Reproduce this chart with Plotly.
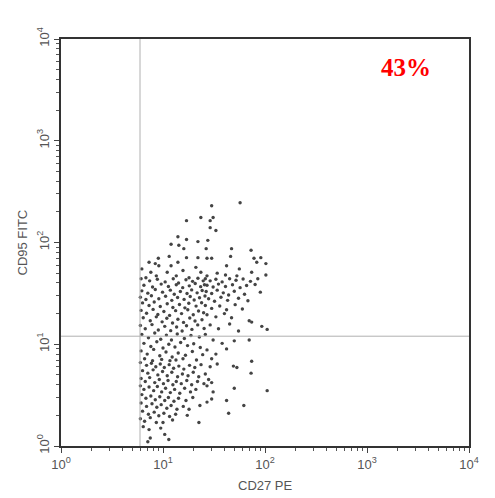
import plotly.graph_objects as go

# ---- data (CD27 PE, CD95 FITC), grouped by region ----
upper_tail = [(57,246),(30,230),(23.5,176),(31,176),(17,164),(29,164),(29,140),(33,131),
              (14,114),(27.5,105),(17,107),(22,102),(12,96),(14.3,94),(16,87),(26.5,87),
              (47,87),(73,84),(46,73),(11.5,73),(17,71),(22,71),(9,70),(27,70),(30,70),
              (78,70),(91,71),(7.3,64),(14,64),(83,64),(8.4,62),(102,62),(9.1,59),(12,59),
              (42,59),(6.2,55),(21,57),(56,55),(7.6,51),(11,51),(15.7,53),(23.5,51),(34,50),
              (74,51),(41,48),(102,48),(8.6,47),(13.5,47),(27,47),(53,47),(18,45),(6.8,45)]

core_upper_left = [(6.1,44),(7.4,42),(8.8,43.5),(10.5,41),(12.6,44),(14.2,40),(16.8,43),(19.5,41.5),(22,44.5),(24.8,42),
                   (6.5,38),(7.9,36.5),(9.6,39),(11.3,37),(13.5,38.5),(15.6,36),(18.1,37.5),(20.7,39.5),(23.4,36.8),(25.5,38.5),
                   (6.2,33.5),(7.1,31.8),(8.4,34.5),(9.9,32.5),(11.8,34),(12.9,31),(14.8,33),(17.2,31.5),(19.1,34.2),(21.6,32),(24.2,33.8),
                   (6.0,29),(6.8,27.5),(7.7,30),(9.1,28),(10.6,29.6),(12.2,27),(13.9,28.8),(16.1,27.6),(18.5,29.5),(20.2,27.2),(22.8,28.6),(25.8,29.8),
                   (6.3,25.5),(7.3,24),(8.2,26),(9.4,23.5),(11,25),(12.5,23),(14.5,24.6),(16.4,22.8),(17.9,25.3),(21.1,23.7),(23.9,25.6),
                   (6.1,21.5),(6.9,20.2),(8,22),(8.9,19.6),(10.2,21),(11.6,19.2),(13.3,21.4),(15.2,20),(17.5,21.8),(19.8,19.5),(22.3,21.2),(25,20.4),
                   (6.4,18.2),(7.5,17),(8.6,18.6),(9.8,16.6),(10.9,18),(12.4,16.2),(14,17.6),(15.9,16.4),(18.3,18.1),(20.6,16.9),(24.1,17.4),
                   (6.0,15.3),(6.7,14.2),(7.8,15.6),(9,13.8),(10.4,15),(11.9,13.6),(13.6,14.8),(15.4,13.5),(17,15.2),(19.2,14),(21.9,15.5),(25.3,14.3),
                   (6.2,12.5),(7.2,11.6),(8.3,12.9),(9.5,11.2),(10.8,12.3),(12.1,11),(13.8,12.6),(16.2,11.4),(18.8,12.2),(22.7,11.8),
                   (6.5,10.2),(7.6,9.5),(8.7,10.6),(10,9.2),(11.4,10),(13.1,9.4),(14.9,10.4),(17.4,9.7),(20,10.1),(23.2,9.3),
                   (6.1,8.6),(7,8),(8.1,8.9),(9.3,7.7),(10.7,8.4),(12.3,7.5),(14.1,8.2),(16.6,7.8),(19.4,8.5),(24.5,7.9),
                   (6.6,7.2),(7.9,6.9),(9.7,7.1),(11.7,6.9),(13.4,7.0),(15.7,7.2),(21.3,7.0)]

core_upper_right = [(26,44),(29,42),(33,43.5),(38,41),(45,44),(52,42.5),(61,43.8),(72,41.5),(85,44),
                    (27,38),(31,36.5),(35,39),(41,37),(48,38.5),(57,36),(66,37.8),(80,38.6),
                    (26.5,33),(30,31.5),(34,34),(39,32),(44,30.5),(50,33.2),(63,31),(90,32.5),
                    (28,28),(32,26.5),(37,29),(43,27),(55,28.3),(68,26.8),
                    (26,24),(30,22.5),(36,23.8),(42,21.8),(51,24.5),(60,22.2),
                    (27,19.5),(33,18.6),(40,20),(47,18.2),(70,17),(74,16.5),(93,15),(105,14),
                    (29,15.5),(35,14.2),(45,15.8),(55,13.5),(70,11),
                    (26,12.5),(31,11),(38,10.2),(50,10.8),(27,8.8),(33,8),(42,9),(30,7.2)]

core_lower_left = [(6.0,6.6),(6.9,6.2),(7.7,6.5),(8.5,6.0),(9.4,6.4),(10.3,5.9),(11.5,6.3),(12.7,5.8),(14.3,6.1),(16,5.7),(18.2,6.2),(20.5,5.9),(23.6,6.3),
                   (6.3,5.5),(7.1,5.2),(8,5.6),(8.9,5.0),(9.9,5.4),(11,4.9),(12.2,5.3),(13.9,4.8),(15.5,5.1),(17.6,4.9),(19.8,5.3),(22.4,4.8),
                   (6.1,4.6),(6.7,4.3),(7.4,4.7),(8.3,4.2),(9.2,4.5),(10.1,4.1),(11.2,4.4),(12.5,4.0),(13.5,4.3),(15.1,4.1),(17.1,4.4),(19.1,4.0),(21.8,4.3),(25.2,4.1),
                   (6.0,3.9),(6.5,3.6),(7.3,3.8),(8.1,3.5),(8.8,3.85),(9.7,3.4),(10.6,3.7),(11.8,3.35),(13,3.6),(14.6,3.3),(16.3,3.7),(18.6,3.4),(21,3.6),
                   (6.2,3.2),(6.8,2.95),(7.6,3.1),(8.4,2.85),(9.3,3.05),(10.4,2.8),(11.3,3.0),(12.8,2.75),(14.2,2.95),(16.8,2.8),(19.6,3.0),
                   (6.1,2.65),(6.9,2.45),(7.8,2.6),(8.7,2.4),(9.6,2.55),(10.9,2.35),(12,2.5),(13.7,2.3),(15.8,2.45),(18,2.3),(23,2.5),
                   (6.3,2.2),(7.2,2.05),(8.2,2.15),(9.1,1.98),(10.2,2.1),(11.6,1.95),(13.3,2.05),(17.3,2.0),
                   (6.0,1.85),(6.6,1.75),(7.5,1.9),(8.6,1.7),(10,1.7),(12.4,1.8),(22.5,1.7),
                   (6.4,1.55),(7.3,1.45),(9.5,1.5),(10.4,1.3),(7.5,1.2),(11.4,1.16),(7.1,1.1)]

lower_right = [(74,6.8),(73,5.2),(50,3.7),(105,3.5),(42,2.8),(62,2.5),(44,2.1),(30,2.9),(27,2.7),
               (29,6),(34,6.4),(49,6.1),(53,5.9),(26,5.1),(28,4.5),(30,4.2),(27,3.9),(31,3.4)]

regions = [upper_tail, core_upper_left, core_upper_right, core_lower_left, lower_right]
cd27 = [p[0] for r in regions for p in r]
cd95 = [p[1] for r in regions for p in r]

gate_cd27 = 5.95
gate_cd95 = 12.0
quadrant_label = "43%"
tick_vals = [1, 10, 100, 1000, 10000]
tick_text = ["10<sup>0</sup>", "10<sup>1</sup>", "10<sup>2</sup>", "10<sup>3</sup>", "10<sup>4</sup>"]

fig = go.Figure()
fig.add_trace(go.Scatter(x=cd27, y=cd95, mode="markers",
                         marker=dict(size=3.4, color="#444444"), hoverinfo="skip"))

fig.add_shape(type="line", xref="x", yref="paper", x0=gate_cd27, x1=gate_cd27, y0=0, y1=1,
              line=dict(color="#b0b0b0", width=1))
fig.add_shape(type="line", xref="paper", yref="y", x0=0, x1=1, y0=gate_cd95, y1=gate_cd95,
              line=dict(color="#b0b0b0", width=1))

axis_common = dict(type="log", range=[0, 4], tickvals=tick_vals, ticktext=tick_text,
                   ticks="outside", ticklen=5, tickcolor="#444", showgrid=False, zeroline=False,
                   showline=True, linecolor="#333", linewidth=2, mirror=True,
                   tickfont=dict(family="Liberation Sans, Arial", size=13, color="#555"),
                   minor=dict(ticks="outside", ticklen=3, tickcolor="#555", dtick="D1", showgrid=False))

fig.update_xaxes(**axis_common)
fig.update_yaxes(**axis_common, tickangle=-90)

fig.add_annotation(x=0.5, y=0, xref="paper", yref="paper", text="CD27 PE", showarrow=False,
                   yshift=-39, yanchor="middle",
                   font=dict(family="Liberation Sans, Arial", size=13, color="#555"))
fig.add_annotation(x=0, y=0.5, xref="paper", yref="paper", text="CD95 FITC", showarrow=False,
                   xshift=-39, xanchor="center", textangle=-90,
                   font=dict(family="Liberation Sans, Arial", size=13, color="#555"))
fig.add_annotation(x=0.845, y=0.929, xref="paper", yref="paper", text="<b>" + quadrant_label + "</b>",
                   showarrow=False, xanchor="center", yanchor="middle",
                   font=dict(family="Liberation Serif, Times New Roman", size=25, color="#ff0000"))

fig.update_layout(width=495, height=498, margin=dict(l=53, r=34, t=31, b=60),
                  plot_bgcolor="white", paper_bgcolor="white", showlegend=False)

fig.write_html("out.html")
